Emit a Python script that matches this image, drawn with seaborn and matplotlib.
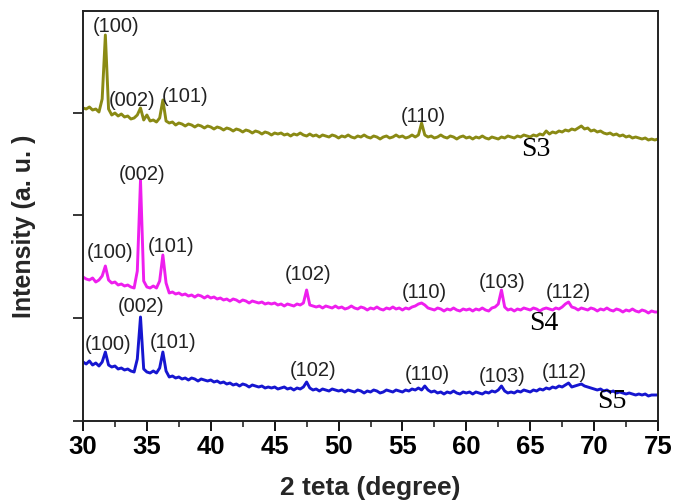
import numpy as np
import pandas as pd
import matplotlib
matplotlib.use("Agg")
import matplotlib.pyplot as plt
import seaborn as sns

# Diffraction scans: 2-theta from 30 to 75 degrees in 0.25 degree steps
two_theta = np.round(np.arange(30.0, 75.0001, 0.25), 2)

samples = ["S3", "S4", "S5"]

# Offset intensities (a. u.), one row per 5 degrees
s3_intensity = [
    313, 312, 314, 311, 312, 309, 322, 386, 312, 306, 308, 305, 307, 304, 305, 302, 303, 306, 313, 301,
    306, 300, 301, 299, 303, 321, 300, 298, 299, 296, 298, 297, 295, 297, 296, 294, 296, 295, 293, 295,
    294, 292, 294, 293, 291, 293, 292, 290, 292, 291, 289, 291, 290, 288, 290, 289, 287, 289, 288, 286,
    288, 287, 288, 286, 287, 285, 287, 286, 288, 286, 285, 287, 285, 286, 284, 286, 285, 284, 286, 285,
    283, 285, 284, 286, 284, 283, 285, 284, 286, 284, 283, 285, 284, 282, 284, 285, 283, 284, 286, 284,
    285, 283, 284, 286, 284, 286, 298, 286, 284, 285, 283, 284, 286, 284, 283, 285, 284, 282, 284, 285,
    283, 284, 282, 284, 283, 285, 283, 282, 284, 283, 282, 284, 283, 285, 284, 283, 285, 284, 286, 285,
    284, 286, 285, 287, 286, 290, 287, 289, 288, 290, 289, 291, 290, 292, 291, 293, 295, 292, 293, 290,
    291, 289, 290, 288, 287, 288, 286, 287, 285, 286, 284, 285, 283, 284, 283, 282, 283, 281, 282, 281,
    282,
]
s4_intensity = [
    144, 142, 141, 143, 139, 141, 145, 155, 141, 138, 139, 136, 137, 135, 136, 134, 133, 150, 241, 140,
    134, 133, 135, 133, 140, 166, 138, 128, 129, 127, 128, 126, 127, 125, 126, 124, 126, 125, 123, 125,
    123, 124, 122, 123, 121, 122, 120, 122, 121, 119, 121, 120, 118, 120, 119, 118, 119, 117, 118, 117,
    118, 116, 117, 115, 117, 116, 115, 117, 116, 118, 131, 116, 115, 114, 115, 113, 115, 114, 113, 115,
    113, 114, 112, 113, 115, 113, 112, 114, 113, 111, 113, 112, 114, 112, 111, 113, 112, 114, 112, 113,
    111, 113, 112, 114, 115, 117, 118, 116, 113, 112, 111, 113, 112, 110, 112, 111, 113, 111, 110, 112,
    111, 112, 110, 112, 111, 113, 111, 110, 113, 114, 117, 131, 114, 111, 112, 110, 112, 111, 113, 112,
    111, 113, 112, 110, 112, 113, 112, 111, 113, 112, 114, 117, 119, 114, 113, 111, 113, 112, 111, 113,
    112, 110, 112, 111, 113, 111, 110, 112, 111, 109, 111, 110, 112, 110, 109, 111, 110, 108, 110, 109,
    109,
]
s5_intensity = [
    59, 57, 60, 56, 58, 55, 59, 69, 56, 54, 55, 52, 53, 51, 52, 50, 49, 62, 104, 52,
    49, 48, 50, 48, 53, 69, 50, 44, 45, 43, 44, 42, 43, 41, 43, 42, 40, 42, 41, 40,
    41, 39, 40, 38, 39, 37, 38, 36, 37, 35, 37, 36, 34, 36, 35, 34, 35, 33, 34, 33,
    34, 32, 33, 34, 32, 33, 31, 33, 32, 34, 39, 33, 31, 32, 30, 32, 31, 30, 32, 31,
    30, 31, 29, 31, 30, 29, 31, 30, 28, 30, 29, 31, 30, 28, 29, 31, 30, 29, 31, 30,
    29, 31, 30, 32, 31, 33, 31, 35, 31, 29, 30, 28, 29, 27, 29, 28, 30, 28, 27, 29,
    28, 29, 27, 29, 28, 27, 29, 28, 30, 29, 31, 35, 30, 28, 29, 28, 30, 29, 31, 30,
    29, 31, 30, 32, 31, 33, 32, 34, 33, 35, 34, 36, 38, 34, 35, 36, 37, 35, 34, 33,
    32, 31, 32, 30, 31, 29, 30, 28, 29, 28, 27, 28, 27, 26, 27, 26, 27, 25, 26, 26,
    26,
]

x_ticks = [30, 35, 40, 45, 50, 55, 60, 65, 70, 75]

# Miller indices marked on each pattern
s3_planes = ["(100)", "(002)", "(101)", "(110)"]
s4_planes = ["(002)", "(100)", "(101)", "(102)", "(110)", "(103)", "(112)"]
s5_planes = ["(002)", "(100)", "(101)", "(102)", "(110)", "(103)", "(112)"]

frames = []
for name, vals in zip(samples, [s3_intensity, s4_intensity, s5_intensity]):
    frames.append(pd.DataFrame({"two_theta": two_theta, "intensity": vals, "sample": name}))
df = pd.concat(frames, ignore_index=True)

sns.set_theme(style="ticks")
plt.rcParams["font.family"] = ["Liberation Sans", "DejaVu Sans"]

palette = {"S3": "#8A8A14", "S4": "#EE1EEE", "S5": "#1616D0"}

fig = plt.figure(figsize=(6.75, 5.01), dpi=100)
ax = fig.add_axes([83 / 675, 80 / 501, 575 / 675, 410 / 501])

sns.lineplot(data=df, x="two_theta", y="intensity", hue="sample", palette=palette,
             estimator=None, sort=False, linewidth=2.1, legend=False, ax=ax)

ax.set_xlim(30, 75)
ax.set_ylim(0, 410)
ax.set_xticks(x_ticks)
ax.set_xticks(np.arange(32.5, 75, 5), minor=True)
ax.set_yticks([0, 103, 206, 308])
ax.set_yticklabels([])
ax.tick_params(axis="x", which="major", direction="out", length=7, width=1.3,
               labelsize=18.5, pad=3, colors="black")
ax.tick_params(axis="x", which="minor", direction="out", length=4, width=1.2)
ax.tick_params(axis="y", which="major", direction="out", length=7, width=1.3)
for lab in ax.get_xticklabels():
    lab.set_fontweight("bold")

for sp in ax.spines.values():
    sp.set_visible(True)
    sp.set_linewidth(1.4)
    sp.set_color("#222222")

ax.set_xlabel("2 teta (degree)", fontsize=19, fontweight="bold", va="top")
ax.set_ylabel("Intensity (a. u. )", fontsize=18, fontweight="bold")
ax.xaxis.set_label_coords(0.5, -0.135)
ax.yaxis.set_label_coords(-0.082, 0.476)

ann_font = dict(fontsize=14.5, ha="center", va="center", color="#222222")
s3_pos = [(32.58, 394), (33.83, 321), (37.97, 324), (56.64, 305)]
s4_pos = [(34.61, 246), (32.11, 169), (36.88, 174), (47.58, 146), (56.72, 128), (62.81, 139), (67.97, 129)]
s5_pos = [(34.53, 114), (31.95, 76), (37.03, 78), (47.97, 51), (56.95, 46), (62.81, 45), (67.66, 49)]
for planes, pos in [(s3_planes, s3_pos), (s4_planes, s4_pos), (s5_planes, s5_pos)]:
    for txt, (px, py) in zip(planes, pos):
        ax.text(px, py, txt, **ann_font)

name_pos = [(65.47, 271), (66.09, 98), (71.4, 19)]
for name, (px, py) in zip(samples, name_pos):
    ax.text(px, py, name, fontsize=20, ha="center", va="center",
            family=["Liberation Serif", "DejaVu Serif"], color="black")

fig.savefig("out.png", dpi=100)
